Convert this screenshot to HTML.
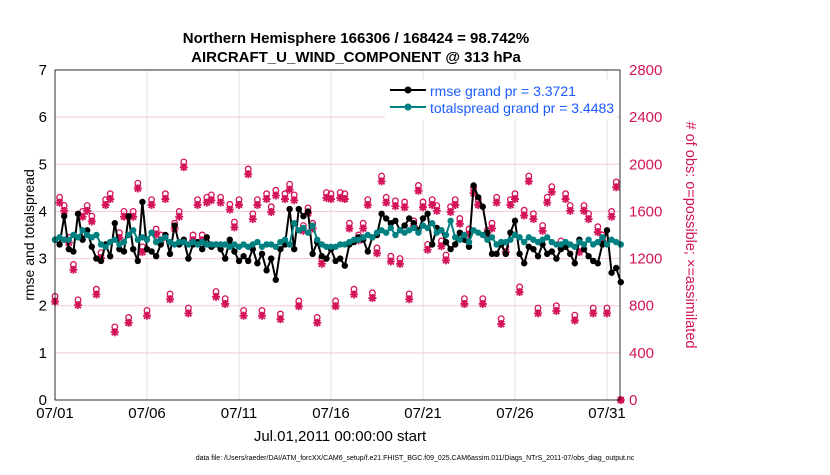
<!DOCTYPE html>
<html><head><meta charset="utf-8"><style>
body{margin:0;background:#fff;font-family:"Liberation Sans",sans-serif}
svg text{font-family:"Liberation Sans",sans-serif}
</style></head><body>
<svg id="chart" width="830" height="470" xmlns="http://www.w3.org/2000/svg">
<rect width="830" height="470" fill="#fff"/>
<text x="356" y="43" text-anchor="middle" font-size="15" font-weight="bold">Northern Hemisphere 166306 / 168424 = 98.742%</text>
<text x="356" y="62" text-anchor="middle" font-size="15" font-weight="bold">AIRCRAFT_U_WIND_COMPONENT @ 313 hPa</text>
<g id="grid"></g>
<g id="marks"></g>
<rect x="55" y="70" width="565" height="330" fill="none" stroke="#000" stroke-width="0.8"/>
<g id="axes"></g>
<text transform="translate(34,235) rotate(-90)" text-anchor="middle" font-size="14">rmse and totalspread</text>
<text transform="translate(686,235) rotate(90)" text-anchor="middle" font-size="14.5" fill="#d4145a"># of obs: o=possible; ×=assimilated</text>
<text x="340" y="441" text-anchor="middle" font-size="15">Jul.01,2011 00:00:00 start</text>
<text x="415" y="460" text-anchor="middle" font-size="7">data file: /Users/raeder/DAI/ATM_forcXX/CAM6_setup/f.e21.FHIST_BGC.f09_025.CAM6assim.011/Diags_NTrS_2011-07/obs_diag_output.nc</text>
<g>
<rect x="385" y="80" width="232" height="40" fill="#fff"/>
<line x1="390" y1="90" x2="426" y2="90" stroke="#000" stroke-width="2"/><circle cx="408" cy="90" r="3.5" fill="#000"/>
<text x="430" y="96" font-size="14" fill="#1a5cff">rmse grand pr = 3.3721</text>
<line x1="390" y1="107" x2="426" y2="107" stroke="#008080" stroke-width="2"/><circle cx="408" cy="107" r="3.5" fill="#008080"/>
<text x="430" y="113" font-size="14" fill="#1a5cff">totalspread grand pr = 3.4483</text>
</g>
</svg>
<script>
const rmse=[3.4,3.3,3.9,3.2, 3.15,3.95,3.4,3.6, 3.25,3.0,2.95,3.3, 3.05,3.75,3.2,3.15, 3.9,3.2,2.95,4.2, 3.2,3.15,3.05,3.3, 3.5,3.1,3.7,3.3, 3.4,3.0,3.3,3.35, 3.2,3.45,3.25,3.3, 3.2,3.0,3.4,3.15, 2.95,3.05,2.95,3.2, 2.9,3.1,2.75,3.0, 2.55,3.2,3.3,4.05, 3.2,4.05,3.9,4.0, 3.1,3.35,3.05,3.0, 3.2,2.95,3.0,2.85, 3.3,3.35,3.45,3.4, 3.15,3.45,3.5,3.95, 3.85,3.75,3.8,3.6, 3.7,3.85,3.75,3.6, 3.85,3.95,3.3,3.65, 3.6,3.35,3.2,3.3, 3.55,3.4,3.25,4.55, 4.3,4.1,3.55,3.1, 3.1,3.3,3.1,3.55, 3.8,3.1,2.9,3.25, 3.2,3.05,3.3,3.1, 3.15,3.0,3.2,3.25, 3.1,2.9,3.4,3.2, 3.05,2.95,2.9,3.3, 3.6,2.7,2.8,2.5];
const spread=[3.4,3.45,3.4,3.4, 3.5,3.45,3.6,3.5, 3.45,3.5,3.3,3.25, 3.35,3.4,3.3,3.35, 3.5,3.6,3.4,3.45, 3.4,3.55,3.35,3.4, 3.45,3.35,3.3,3.35, 3.35,3.3,3.35,3.3, 3.35,3.3,3.3,3.3, 3.3,3.3,3.25,3.3, 3.25,3.3,3.25,3.3, 3.35,3.25,3.3,3.3, 3.25,3.35,3.4,3.3, 3.75,3.6,3.65,3.55, 3.7,3.4,3.3,3.25, 3.25,3.25,3.3,3.3, 3.35,3.4,3.4,3.45, 3.5,3.45,3.55,3.6, 3.55,3.65,3.5,3.6, 3.55,3.6,3.65,3.55, 3.7,3.65,3.75,3.55, 3.6,3.5,3.8,3.45, 3.4,3.5,3.35,3.6, 3.55,3.5,3.4,3.45, 3.3,3.35,3.35,3.4, 3.5,3.45,3.35,3.45, 3.4,3.35,3.4,3.45, 3.35,3.3,3.3,3.35, 3.3,3.25,3.35,3.3, 3.4,3.3,3.35,3.45, 3.3,3.4,3.35,3.3];
const obsPossible=[880,1720,1650,1380, 1150,850,1600,1650, 1560,940,1250,1700, 1750,620,1420,1600, 700,1600,1840,1300, 760,1700,1450,1400, 1750,900,1500,1600, 2020,780,1400,1700, 1400,1720,1740,920, 1720,860,1660,1510, 1700,760,1960,1580, 1700,760,1750,1640, 1780,730,1750,1830, 1740,840,1480,1630, 1500,700,1200,1760, 1750,840,1760,1750, 1500,940,1400,1500, 1700,910,1290,1900, 1720,1220,1690,1200, 1680,900,1520,1820, 1680,1320,1700,1650, 1350,1230,1640,1700, 1540,860,1450,1800, 1700,860,1440,1500, 1720,690,1300,1700, 1750,960,1610,1900, 1580,780,1480,1720, 1810,800,1350,1750, 1650,720,1300,1650, 1580,780,1470,1400, 780,1600,1850,0];
const obsUsed=obsPossible.map(v=>v>0?v-45:0);
const xTickLabels=["07/01","07/06","07/11","07/16","07/21","07/26","07/31"];
const xTickDays=[0,5,10,15,20,25,30];
const yTicks=[0,1,2,3,4,5,6,7];
const rTicks=[0,400,800,1200,1600,2000,2400,2800];

const NS="http://www.w3.org/2000/svg";
const X0=55,X1=620,Y0=400,Y1=70;
const PXDAY=(607-55)/30;
const xs=i=>X0+(i/4)*PXDAY;
const xd=d=>X0+d*PXDAY;
const yl=v=>Y0-v/7*(Y0-Y1);
const yr=v=>Y0-v/2800*(Y0-Y1);
function mk(t,a,p){const e=document.createElementNS(NS,t);for(const k in a)e.setAttribute(k,a[k]);(p||document.getElementById('marks')).appendChild(e);return e;}
const grid=document.getElementById('grid'),axes=document.getElementById('axes');
xTickDays.forEach((d,i)=>{
  const g=mk('line',{x1:xd(d),x2:xd(d),y1:Y1,y2:Y0,stroke:'#e2e2e2','stroke-width':1},grid);
  
  
  const t=mk('text',{x:xd(d),y:Y0+18,'text-anchor':'middle','font-size':15},axes);
  t.textContent=xTickLabels[i];
  
  
});
yTicks.forEach(v=>{
  const t=mk('text',{x:X0-8,y:yl(v)+5,'text-anchor':'end','font-size':15},axes);
  t.textContent=v;
  
  
});
rTicks.forEach(v=>{
  const g=mk('line',{x1:X0,x2:X1,y1:yr(v),y2:yr(v),stroke:'#f3c8d8','stroke-width':1},grid);
  
  
  const t=mk('text',{x:X1+9,y:yr(v)+5,'font-size':15,fill:'#d4145a'},axes);
  t.textContent=v;
  
  
});
function series(arr,color,name){
  const p=mk('polyline',{points:arr.map((v,i)=>xs(i)+','+yl(v)).join(' '),fill:'none',stroke:color,'stroke-width':2});
  
  
  arr.forEach((v,i)=>{
    const c=mk('circle',{cx:xs(i),cy:yl(v),r:3.2,fill:color});
    
    
  });
}
obsPossible.forEach((v,i)=>{
  const c=mk('circle',{cx:xs(i),cy:yr(v),r:2.8,fill:'none',stroke:'#d4145a','stroke-width':1.3});
  
  
});
obsUsed.forEach((v,i)=>{
  const x=xs(i),y=yr(v);
  const g=mk('path',{d:`M${x-4},${y}H${x+4}M${x},${y-4}V${y+4}M${x-3},${y-3}L${x+3},${y+3}M${x-3},${y+3}L${x+3},${y-3}`,stroke:'#d4145a','stroke-width':1.8});
  
  
});
series(rmse,'#000','rmse');
series(spread,'#008080','totalspread');
</script>
</body></html>
